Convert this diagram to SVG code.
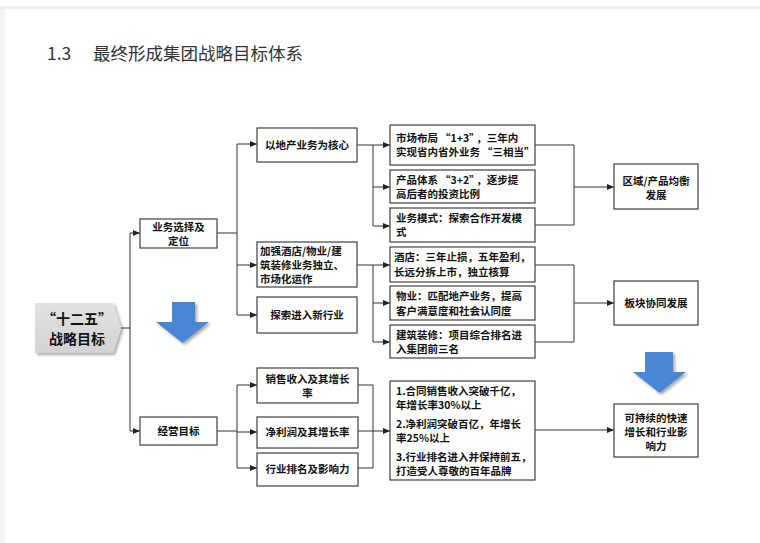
<svg xmlns="http://www.w3.org/2000/svg" width="760" height="543" viewBox="0 0 760 543">
<defs>
<style>
.bx{fill:#fff;stroke:#404040;stroke-width:1.2}
.t{font-family:"Noto Sans CJK SC","Microsoft YaHei",sans-serif;font-size:10.5px;font-weight:bold;fill:#111}
.c{text-anchor:middle}
.ln{fill:none;stroke:#333;stroke-width:1}
.ar{fill:none;stroke:#333;stroke-width:1;marker-end:url(#ah)}
.blue{fill:#4a86d4}
.big{font-family:"Noto Sans CJK SC",sans-serif;font-size:14px;font-weight:bold;fill:#111;text-anchor:middle}
</style>
<marker id="ah" markerUnits="userSpaceOnUse" markerWidth="8" markerHeight="8" refX="7" refY="4" orient="auto">
<path d="M0,1 L7,4 L0,7 Z" fill="#222"/>
</marker>
<filter id="sh" x="-20%" y="-20%" width="150%" height="150%">
<feGaussianBlur in="SourceAlpha" stdDeviation="1.5"/>
<feOffset dx="2" dy="2" result="o"/>
<feComponentTransfer><feFuncA type="linear" slope="0.35"/></feComponentTransfer>
<feMerge><feMergeNode/><feMergeNode in="SourceGraphic"/></feMerge>
</filter>
<linearGradient id="gg" x1="0" y1="0" x2="0" y2="1">
<stop offset="0" stop-color="#e2e2e2"/><stop offset="1" stop-color="#d2d2d2"/>
</linearGradient>
</defs>
<rect x="0" y="0" width="760" height="543" fill="#fff"/>
<rect x="0" y="6" width="760" height="3" fill="#efefef"/>
<rect x="0" y="9" width="5" height="534" fill="#f4f4f4"/>
<text x="47" y="60" style="font-family:'Noto Sans CJK SC',sans-serif;font-size:17.5px;fill:#333">1.3<tspan x="93">最终形成集团战略目标体系</tspan></text>

<g id="connectors">
<polyline class="ln" points="121,328 130,328"/>
<polyline class="ln" points="130,233 130,431"/>
<line class="ar" x1="130" y1="233" x2="140" y2="233"/>
<line class="ar" x1="130" y1="431" x2="140" y2="431"/>
<line class="ln" x1="217" y1="233" x2="237" y2="233"/>
<line class="ln" x1="237" y1="144" x2="237" y2="315"/>
<line class="ar" x1="237" y1="144" x2="257" y2="144"/>
<line class="ar" x1="237" y1="265" x2="257" y2="265"/>
<line class="ar" x1="237" y1="315" x2="257" y2="315"/>
<line class="ln" x1="357" y1="145" x2="373" y2="145"/>
<line class="ln" x1="373" y1="145" x2="373" y2="226"/>
<line class="ar" x1="373" y1="145" x2="390" y2="145"/>
<line class="ar" x1="373" y1="187" x2="390" y2="187"/>
<line class="ar" x1="373" y1="226" x2="390" y2="226"/>
<line class="ln" x1="357" y1="265" x2="373" y2="265"/>
<line class="ln" x1="373" y1="265" x2="373" y2="342"/>
<line class="ar" x1="373" y1="265" x2="390" y2="265"/>
<line class="ar" x1="373" y1="303" x2="390" y2="303"/>
<line class="ar" x1="373" y1="342" x2="390" y2="342"/>
<polyline class="ln" points="535,145 574,145 574,225 535,225"/>
<line class="ar" x1="574" y1="187" x2="614" y2="187"/>
<polyline class="ln" points="535,265 574,265 574,342 535,342"/>
<line class="ar" x1="574" y1="303" x2="614" y2="303"/>
<line class="ln" x1="217" y1="431" x2="237" y2="431"/>
<line class="ln" x1="237" y1="385" x2="237" y2="468"/>
<line class="ar" x1="237" y1="385" x2="257" y2="385"/>
<line class="ar" x1="237" y1="432" x2="257" y2="432"/>
<line class="ar" x1="237" y1="468" x2="257" y2="468"/>
<polyline class="ln" points="358,385 373,385 373,468 358,468"/>
<line class="ar" x1="358" y1="431" x2="390" y2="431"/>
<line class="ar" x1="535" y1="430" x2="614" y2="430"/>
</g>

<g id="root">
<path d="M35,303 L113,303 L121,328 L113,353 L35,353 Z" fill="url(#gg)" filter="url(#sh)"/>
<text class="big" x="77" y="324">“十二五”</text>
<text class="big" x="77" y="343.5">战略目标</text>
</g>

<g id="arrow-left"><path class="blue" filter="url(#sh)" d="M172,302 L195,302 L195,322 L209,322 L182.5,343 L156,322 L172,322 Z"/></g>
<g id="arrow-right"><path class="blue" filter="url(#sh)" d="M645,352 L673,352 L673,372 L686,372 L659.5,393 L633,372 L645,372 Z"/></g>

<g id="n-business"><rect class="bx" x="140" y="219" width="77" height="29"/>
<text class="t c" x="178.5" y="231">业务选择及</text><text class="t c" x="178.5" y="245">定位</text></g>
<g id="n-operation"><rect class="bx" x="140" y="417" width="77" height="28"/>
<text class="t c" x="178.5" y="435">经营目标</text></g>

<g id="n-core"><rect class="bx" x="257" y="128" width="100" height="34"/>
<text class="t c" x="307" y="149">以地产业务为核心</text></g>
<g id="n-hotel"><rect class="bx" x="257" y="242" width="100" height="45"/>
<text class="t" x="260" y="255">加强酒店/物业/建</text><text class="t" x="260" y="269">筑装修业务独立、</text><text class="t" x="260" y="283">市场化运作</text></g>
<g id="n-new"><rect class="bx" x="257" y="297" width="100" height="36"/>
<text class="t c" x="307" y="319">探索进入新行业</text></g>

<g id="n-r1"><rect class="bx" x="390" y="125" width="145" height="40"/>
<text class="t" x="396" y="142">市场布局<tspan dx="2">“1+3”</tspan><tspan dx="2">，三年内</tspan></text><text class="t" x="396" y="156">实现省内省外业务<tspan dx="2">“三相当”</tspan></text></g>
<g id="n-r2"><rect class="bx" x="390" y="170" width="145" height="33"/>
<text class="t" x="396" y="184">产品体系<tspan dx="2">“3+2”</tspan><tspan dx="2">，逐步提</tspan></text><text class="t" x="396" y="198">高后者的投资比例</text></g>
<g id="n-r3"><rect class="bx" x="390" y="208" width="145" height="34"/>
<text class="t" x="396" y="222">业务模式：探索合作开发模</text><text class="t" x="396" y="236">式</text></g>
<g id="n-r4"><rect class="bx" x="390" y="247" width="145" height="35"/>
<text class="t" x="394" y="261">酒店：三年止损，五年盈利，</text><text class="t" x="394" y="276">长远分拆上市，独立核算</text></g>
<g id="n-r5"><rect class="bx" x="390" y="286" width="145" height="34"/>
<text class="t" x="396" y="300">物业：匹配地产业务，提高</text><text class="t" x="396" y="315">客户满意度和社会认同度</text></g>
<g id="n-r6"><rect class="bx" x="390" y="325" width="145" height="33"/>
<text class="t" x="396" y="339">建筑装修：项目综合排名进</text><text class="t" x="396" y="353">入集团前三名</text></g>

<g id="n-region"><rect class="bx" x="614" y="164" width="84" height="45"/>
<text class="t c" x="656" y="185">区域/产品均衡</text><text class="t c" x="656" y="199">发展</text></g>
<g id="n-synergy"><rect class="bx" x="614" y="281" width="84" height="44"/>
<text class="t c" x="656" y="307">板块协同发展</text></g>

<g id="n-sales"><rect class="bx" x="257" y="368" width="101" height="35"/>
<text class="t c" x="307.5" y="383">销售收入及其增长</text><text class="t c" x="307.5" y="397">率</text></g>
<g id="n-profit"><rect class="bx" x="257" y="417" width="101" height="31"/>
<text class="t c" x="307.5" y="436">净利润及其增长率</text></g>
<g id="n-rank"><rect class="bx" x="257" y="453" width="101" height="33"/>
<text class="t c" x="307.5" y="473">行业排名及影响力</text></g>

<g id="n-targets"><rect class="bx" x="390" y="381" width="145" height="99"/>
<text class="t" x="396" y="395">1.合同销售收入突破千亿，</text><text class="t" x="396" y="409">年增长率30%以上</text>
<text class="t" x="396" y="428">2.净利润突破百亿，年增长</text><text class="t" x="396" y="442">率25%以上</text>
<text class="t" x="396" y="461">3.行业排名进入并保持前五，</text><text class="t" x="396" y="475">打造受人尊敬的百年品牌</text></g>

<g id="n-growth"><rect class="bx" x="614" y="404" width="84" height="53"/>
<text class="t c" x="656" y="422">可持续的快速</text><text class="t c" x="656" y="436">增长和行业影</text><text class="t c" x="656" y="450">响力</text></g>
</svg>
